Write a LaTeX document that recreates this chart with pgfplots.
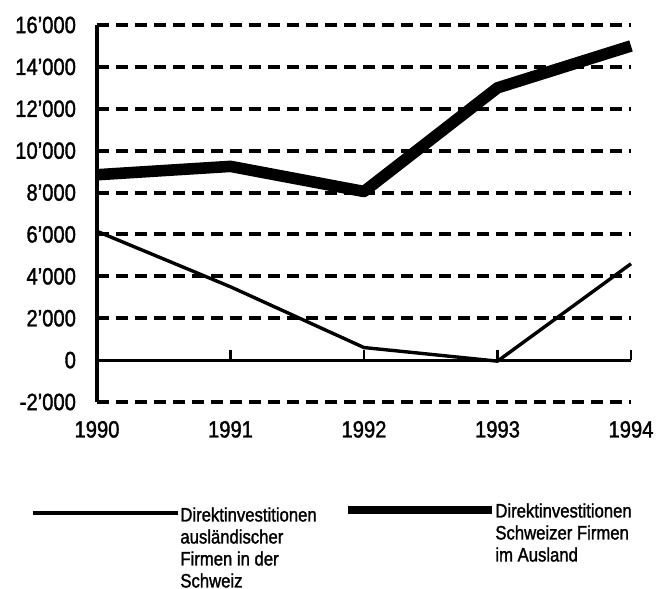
\documentclass[border=0pt]{standalone}
\usepackage{pgfplots}
\pgfplotsset{compat=1.18}
\usepackage{fontspec}
\setmainfont{Liberation Sans}[FakeStretch=0.86,FakeBold=1.5]
\begin{document}
\begin{tikzpicture}
\useasboundingbox (-48.5pt,-93.5pt) rectangle (281pt,201pt);
\begin{axis}[
 scale only axis, width=267pt, height=188.5pt,
 xmin=1990, xmax=1994, ymin=-2000, ymax=16000,
 scaled y ticks=false, scaled x ticks=false,
 axis line style={draw=none},
 xtick={1990,1991,1992,1993,1994},
 xticklabels={1990,1991,1992,1993,1994},
 ytick={-2000,2000,4000,6000,8000,10000,12000,14000,16000},
 yticklabels={-2'000,2'000,4'000,6'000,8'000,10'000,12'000,14'000,16'000},
 extra y ticks={0}, extra y tick labels={0}, extra y tick style={grid=none},
 ymajorgrids,
 major grid style={black, line width=2pt, dash pattern=on 6pt off 3.5pt},
 major tick length=0pt,
 tick label style={font=\fontsize{11.75}{14}\selectfont},
 yticklabel style={xshift=-7pt},
 xticklabel style={yshift=-6pt},
 clip=false,
]
\draw[line width=1.6pt] (axis cs:1990,-2000) -- (axis cs:1990,16000);
\draw[line width=1.6pt] (axis cs:1990,0) -- (axis cs:1994,0);
\draw[line width=1.4pt] (axis cs:1991,0) -- (axis cs:1991,480);
\draw[line width=1.4pt] (axis cs:1992,0) -- (axis cs:1992,480);
\draw[line width=1.4pt] (axis cs:1993,0) -- (axis cs:1993,480);
\draw[line width=1.4pt] (axis cs:1994,0) -- (axis cs:1994,480);
\addplot[black, line width=1.7pt, line join=round] coordinates {(1990,6150) (1991,3500) (1992,600) (1993,-50) (1994,4600)};
\addplot[black, line width=5.8pt, line join=round] coordinates {(1990,8850) (1991,9250) (1992,8050) (1993,13000) (1994,15000)};
\end{axis}
\draw[line width=1.6pt] (-32pt,-55.5pt) -- (40.5pt,-55.5pt);
\node[anchor=north west, inner sep=0pt, align=left, font=\fontsize{9.7}{11}\selectfont] at (41.5pt,-52.5pt)
  {Direktinvestitionen\\ausländischer\\Firmen in der\\Schweiz};
\draw[line width=4pt] (125.5pt,-54pt) -- (197.5pt,-54pt);
\node[anchor=north west, inner sep=0pt, align=left, font=\fontsize{9.7}{11}\selectfont] at (199pt,-50.5pt)
  {Direktinvestitionen\\Schweizer Firmen\\im Ausland};
\end{tikzpicture}
\end{document}
